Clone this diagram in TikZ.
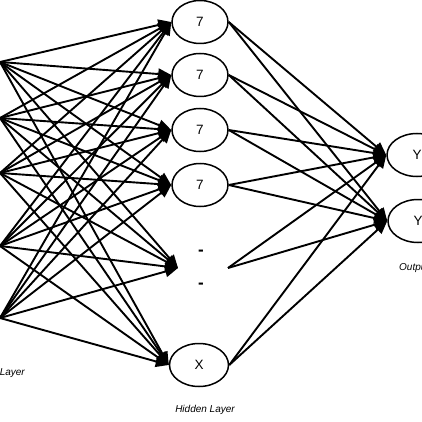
\documentclass[tikz,border=0pt]{standalone}
\usepackage{fontspec}
\setmainfont{Liberation Sans}
\usetikzlibrary{arrows.meta,shapes.geometric}
\begin{document}
\begin{tikzpicture}[x=1pt,y=-1pt,
  neuron/.style={draw,ellipse,line width=1.5pt,minimum width=56pt,minimum height=43pt,inner sep=0pt,font=\fontsize{13.5}{13.5}\selectfont},
  conn/.style={line width=1.9pt,-{Triangle[length=13pt,width=11pt]}},
  lbl/.style={font=\fontsize{10}{10}\selectfont\itshape,inner sep=0pt},
  dashlbl/.style={font=\fontsize{17}{17}\selectfont\bfseries,inner sep=0pt}]
\useasboundingbox (0,0) rectangle (422,422);
% input points (nodes off the left edge)
\coordinate (i1) at (0,62);
\coordinate (i2) at (0,118);
\coordinate (i3) at (0,173);
\coordinate (i4) at (0,246);
\coordinate (i5) at (0,318);
% hidden layer
\node[neuron] (h1) at (200,22) {7};
\node[neuron] (h2) at (200,75) {7};
\node[neuron] (h3) at (200,130) {7};
\node[neuron] (h4) at (200,185) {7};
\node[dashlbl] (d1) at (201,253) {-};
\node[dashlbl] (d2) at (201,286) {-};
\coordinate (hdin) at (178,268);
\coordinate (hdout) at (228,268);
\node[neuron,minimum width=59pt] (hx) at (199,365) {X};
% output layer
\node[neuron,minimum width=60pt] (y1) at (417,155) {Y};
\node[neuron,minimum width=60pt] (y2) at (418,221) {Y};
% labels
\node[lbl,anchor=east] (linp) at (25,373) {Input Layer};
\node[lbl] (lhid) at (205,410) {Hidden Layer};
\node[lbl,anchor=west] (lout) at (399,268) {Output Layer};
% input -> hidden
\foreach \i in {i1,i2,i3,i4,i5}{
  \draw[conn] (\i) -- (h1.west);
  \draw[conn] (\i) -- (h2.west);
  \draw[conn] (\i) -- (h3.west);
  \draw[conn] (\i) -- (h4.west);
  \draw[conn] (\i) -- (hdin);
  \draw[conn] (\i) -- (hx.west);
}
% hidden -> output
\foreach \h in {h1,h2,h3,h4,hx}{
  \draw[conn] (\h.east) -- (y1.west);
  \draw[conn] (\h.east) -- (y2.west);
}
\draw[conn] (hdout) -- (y1.west);
\draw[conn] (hdout) -- (y2.west);
\end{tikzpicture}
\end{document}
